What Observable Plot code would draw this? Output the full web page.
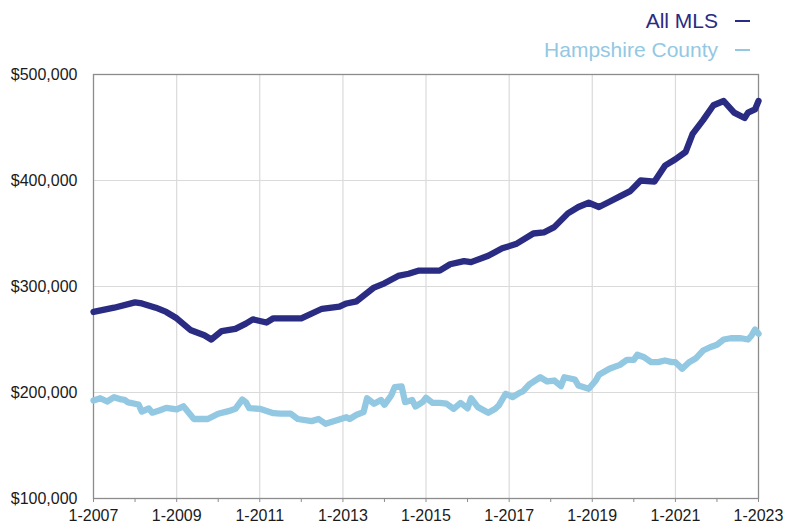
<!DOCTYPE html>
<html>
<head>
<meta charset="utf-8">
<script src="https://cdn.jsdelivr.net/npm/d3@7"></script>
<script src="https://cdn.jsdelivr.net/npm/@observablehq/plot@0.6"></script>
<style>
  html, body { margin: 0; padding: 0; background: #fff; }
  #wrap { width: 802px; font-family: "Liberation Sans", Arial, Helvetica, sans-serif; }
  #legend { height: 64px; box-sizing: border-box; padding-top: 6px; padding-right: 52px; text-align: right; font-size: 21px; }
  #legend .row { line-height: 29px; white-space: nowrap; }
  #legend .dash { display: inline-block; width: 15px; height: 2px; margin-left: 17px; vertical-align: middle; position: relative; top: -1px; }
</style>
</head>
<body>
<div id="wrap">
  <div id="legend"></div>
  <div id="chart"></div>
</div>
<script>
// Series names and colours
const seriesNames = ["All MLS", "Hampshire County"];
const seriesColors = ["#2a2b82", "#93c8e3"];

// All MLS median price
const mlsDates = ["2007-01","2007-07","2008-01","2008-03","2008-07","2008-10","2009-01","2009-05","2009-09","2009-11",
  "2010-02","2010-06","2010-09","2010-11","2011-03","2011-05","2012-01","2012-07","2012-12","2013-02",
  "2013-05","2013-10","2014-01","2014-05","2014-08","2014-11","2015-05","2015-08","2015-12","2016-02",
  "2016-07","2016-11","2017-03","2017-08","2017-11","2018-02","2018-06","2018-09","2018-12","2019-03",
  "2019-06","2019-09","2019-12","2020-03","2020-07","2020-10","2021-01","2021-04","2021-06","2021-09",
  "2021-12","2022-03","2022-06","2022-09","2022-10","2022-12","2023-01"];
const mlsValues = [276,280,285,284,280,276,270,259,254,250,
  258,260,265,269,266,270,270,279,281,284,
  286,299,303,310,312,315,315,321,324,323,
  329,336,340,350,351,356,369,375,379,375,
  380,385,390,400,399,414,420,427,444,457,
  471,475,464,459,464,467,475];

// Hampshire County median price
const hampDates = ["2007-01","2007-03","2007-05","2007-07","2007-09","2007-10","2007-11","2008-02","2008-03","2008-05",
  "2008-06","2008-08","2008-10","2009-01","2009-03","2009-04","2009-06","2009-10","2010-01","2010-04",
  "2010-06","2010-08","2010-09","2010-10","2011-01","2011-05","2011-07","2011-10","2011-12","2012-04",
  "2012-06","2012-08","2012-11","2013-02","2013-03","2013-05","2013-07","2013-08","2013-10","2013-12",
  "2014-01","2014-03","2014-04","2014-06","2014-07","2014-09","2014-10","2014-12","2015-01","2015-03",
  "2015-05","2015-07","2015-09","2015-11","2016-01","2016-02","2016-04","2016-07","2016-09","2016-10",
  "2016-12","2017-02","2017-04","2017-05","2017-07","2017-10","2017-12","2018-02","2018-04","2018-05",
  "2018-08","2018-09","2018-12","2019-02","2019-03","2019-06","2019-09","2019-11","2020-01","2020-02",
  "2020-04","2020-06","2020-08","2020-10","2020-12","2021-01","2021-03","2021-05","2021-07","2021-09",
  "2021-11","2022-01","2022-03","2022-05","2022-08","2022-10","2022-11","2022-12","2023-01"];
const hampValues = [192.5,194.6,191.5,195.6,193.4,193,190.6,188.7,182,185,
  181,183,185.5,184,187,183,175,175,180,182.4,
  184.6,193.4,190.9,185.2,184.6,180.5,180,180,175,173,
  175,170.5,173.6,176.7,175,179,181.5,194.6,189.4,193,
  188.4,197.2,205,205.7,190.9,193,186.8,190.9,195,190.2,
  190.2,189.4,184.6,190.2,185,194.6,186.2,180.8,184.6,187.7,
  198.8,195.6,199.7,201,208,214.4,210.4,211.3,206,214.4,
  212.3,206.6,203.5,211.3,216.7,222.4,226.1,230.8,230.8,235.6,
  233.3,228.6,228.6,230.2,228.6,228.6,222.4,228.6,232.4,239.6,
  242.7,245,250,251.2,251.2,250,253.8,259.4,255.4];

// Axis ticks
const yTicks = [100000, 200000, 300000, 400000, 500000];
const xLabelYears = [2007, 2009, 2011, 2013, 2015, 2017, 2019, 2021, 2023];
const xTickYears = d3.range(2007, 2024);

const parse = s => new Date(s + "-01T00:00:00Z");
const rows = [];
mlsDates.forEach((d, i) => rows.push({series: seriesNames[0], date: parse(d), value: mlsValues[i] * 1000}));
hampDates.forEach((d, i) => rows.push({series: seriesNames[1], date: parse(d), value: hampValues[i] * 1000}));

// Legend
const legend = document.getElementById("legend");
seriesNames.forEach((n, i) => {
  const row = document.createElement("div");
  row.className = "row";
  row.style.color = seriesColors[i];
  row.innerHTML = `<span>${n}</span><span class="dash" style="background:${seriesColors[i]}"></span>`;
  legend.appendChild(row);
});

const yearDate = y => new Date(Date.UTC(y, 0, 1));

const chart = Plot.plot({
  width: 802,
  height: 461,
  marginTop: 10,
  marginRight: 44,
  marginBottom: 27,
  marginLeft: 93,
  style: {fontFamily: '"Liberation Sans", Arial, Helvetica, sans-serif', fontSize: "16px", color: "#1a1a1a", background: "#fff", overflow: "visible"},
  x: {type: "utc", domain: [yearDate(2007), yearDate(2023)]},
  y: {domain: [100000, 500000]},
  color: {domain: seriesNames, range: seriesColors},
  marks: [
    Plot.gridY(yTicks.slice(1, -1), {stroke: "#dadada", strokeOpacity: 1, strokeWidth: 1.2}),
    Plot.gridX(xLabelYears.slice(1, -1).map(yearDate), {stroke: "#dadada", strokeOpacity: 1, strokeWidth: 1.2}),
    Plot.frame({stroke: "#8c8c8c", strokeWidth: 1.3}),
    Plot.axisY({ticks: yTicks, tickSize: 0, tickPadding: 16, tickFormat: d => "$" + d3.format(",")(d), label: null}),
    Plot.axisX({ticks: xTickYears.map(yearDate), tickSize: 4, tickPadding: 7, stroke: "#8c8c8c",
      tickFormat: d => (d.getUTCFullYear() % 2 === 1 ? "1-" + d.getUTCFullYear() : ""), label: null}),
    Plot.line(rows, {x: "date", y: "value", z: "series", stroke: "series", strokeWidth: 6.3, strokeLinejoin: "round", strokeLinecap: "round", curve: "linear"})
  ]
});
document.getElementById("chart").appendChild(chart);
</script>
</body>
</html>
